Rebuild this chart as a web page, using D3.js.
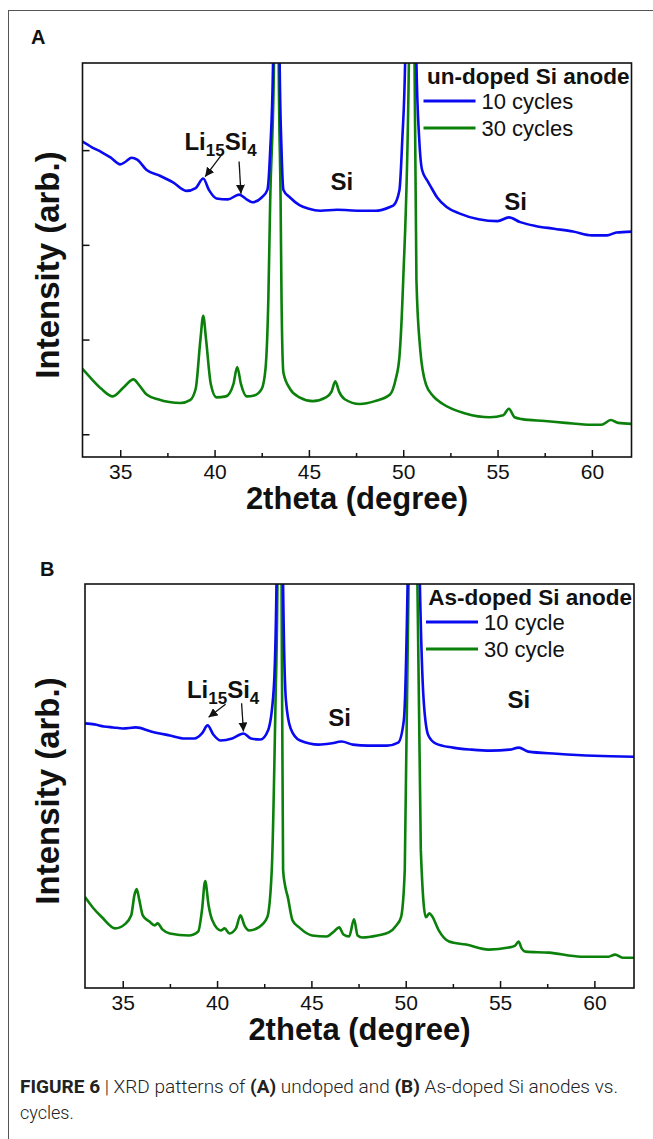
<!DOCTYPE html>
<html><head><meta charset="utf-8">
<script src="https://cdn.jsdelivr.net/npm/d3@7"></script>
<style>body{margin:0;background:#fff}</style>
</head><body><svg id="c" width="653" height="1139" xmlns="http://www.w3.org/2000/svg"></svg>
<script>
// ---- DATA (2theta in degrees, intensity in arbitrary units) ----
const undoped10 = [[33.0,309],[33.5,303],[34.0,298],[34.5,292],[35.0,285],[35.3,288],[35.6,292],[35.9,290],[36.4,279],[37.1,273],[37.8,266],[38.5,257],[39.0,260],[39.4,270],[39.7,258],[40.1,249],[40.7,248],[41.3,253],[41.7,248],[42.0,245],[42.5,250],[42.8,258],[42.95,300],[43.1,392],[43.27,1000],[43.45,392],[43.55,300],[43.65,258],[44.0,250],[44.5,242],[45.0,238],[45.6,236],[46.5,237],[47.7,236],[48.5,236],[49.3,240],[49.5,242],[49.8,258],[49.95,311],[50.1,392],[50.4,1000],[50.7,392],[50.85,311],[51.0,279],[51.3,267],[51.5,260],[51.8,250],[52.3,240],[53.0,233],[54.0,227],[55.0,225],[55.6,229],[56.2,224],[57.0,220],[58.0,217],[59.0,214],[60.0,210],[60.8,210],[61.3,213],[62.1,214]];
const undoped30 = [[33.0,69],[33.5,58],[34.0,48],[34.6,40],[35.2,50],[35.7,58],[36.0,52],[36.4,42],[37.0,37],[37.6,34],[38.2,33],[38.7,36],[39.0,48],[39.25,100],[39.4,125],[39.55,100],[39.8,53],[40.1,39],[40.6,40],[41.0,53],[41.2,71],[41.4,53],[41.7,40],[42.1,41],[42.5,48],[42.7,69],[42.85,142],[42.95,248],[43.15,392],[43.28,1200],[43.4,392],[43.5,248],[43.55,142],[43.65,65],[44.0,48],[44.5,39],[45.2,35],[45.9,39],[46.2,45],[46.4,56],[46.6,45],[46.9,37],[47.7,32],[48.5,35],[49.3,42],[49.6,58],[49.8,82],[50.0,163],[50.3,392],[50.45,1200],[50.6,392],[50.7,163],[50.9,90],[51.2,53],[51.6,40],[52.1,32],[53.3,22],[54.6,18],[55.3,20],[55.6,27],[55.9,18],[56.3,16],[57.5,14],[58.6,12],[60.0,10],[60.5,10],[61.0,15],[61.4,12],[62.1,11]];
const doped10 = [[33.0,262],[33.5,261],[34.0,259],[34.5,258],[35.0,257],[35.7,258],[36.5,254],[37.5,250],[38.3,247],[38.8,247],[39.2,252],[39.5,260],[39.8,251],[40.2,245],[40.8,247],[41.4,252],[41.8,247],[42.3,246],[42.7,255],[43.0,295],[43.15,400],[43.3,900],[43.5,400],[43.65,285],[43.9,257],[44.4,245],[45.4,241],[46.0,242],[46.6,244],[47.2,241],[48.0,240],[49.0,240],[49.6,243],[49.9,265],[50.1,400],[50.4,900],[50.75,400],[50.95,285],[51.2,250],[51.6,242],[52.5,238],[53.5,236],[54.5,235],[55.5,236],[56.0,238],[56.5,234],[58.0,232],[60.0,230],[62.1,229]];
const doped30 = [[33.0,90],[33.4,80],[33.9,70],[34.6,59],[35.1,63],[35.45,72],[35.62,92],[35.74,98],[35.88,87],[36.06,72],[36.4,66],[36.7,62],[36.85,64],[37.1,58],[37.5,54],[38.5,52],[39.0,56],[39.2,77],[39.37,106],[39.55,82],[39.75,67],[40.2,57],[40.4,59],[40.66,54],[41.0,59],[41.24,72],[41.45,62],[41.7,57],[42.2,60],[42.66,70],[42.9,117],[43.1,285],[43.2,400],[43.3,1100],[43.42,400],[43.5,117],[43.6,102],[43.75,90],[44.0,67],[44.35,60],[45.04,52],[45.8,51],[46.2,56],[46.47,60],[46.7,53],[47.0,51],[47.26,68],[47.45,52],[47.7,50],[48.5,52],[49.1,55],[49.5,62],[49.75,70],[49.95,117],[50.15,400],[50.4,1100],[50.62,400],[50.8,137],[51.07,70],[51.25,74],[51.4,71],[51.75,57],[52.3,46],[53.2,43],[54.4,38],[55.45,40],[55.8,42],[55.98,46],[56.15,39],[56.35,36],[57.6,35],[59.3,31],[60.75,31],[61.1,33],[61.5,30],[62.1,30]];

const xDomain = [33, 62.1];
const xTicks = [35, 40, 45, 50, 55, 60];
const xMinorTicks = [37.5, 42.5, 47.5, 52.5, 57.5];
const yDomainA = [-24, 392];
const yTicksA = [0, 100, 200, 300];
const yDomainB = [0, 400];
const yTicksB = [];
const panelLabels = ["A", "B"];
const legendTitles = ["un-doped Si anode", "As-doped Si anode"];
const legendLabelsA = ["10 cycles", "30 cycles"];
const legendLabelsB = ["10 cycle", "30 cycle"];
const xTitle = "2theta (degree)";
const yTitle = "Intensity (arb.)";
// annotation anchors in data units: [2theta, intensity]
const siLabelsA = [[46.75, 258], [55.95, 237]];
const siLabelsB = [[46.5, 259], [56.0, 277]];

const blue = "#0a0af0", green = "#0b800b";
const svg = d3.select("#c");

// outer border
svg.append("rect").attr("x", 8.5).attr("y", 10.5).attr("width", 700).attr("height", 1200)
  .attr("fill", "none").attr("stroke", "#555").attr("stroke-width", 1);

svg.append("defs").append("marker").attr("id", "ah").attr("viewBox", "0 0 10 10")
  .attr("refX", 10).attr("refY", 5).attr("markerWidth", 9).attr("markerHeight", 9)
  .attr("markerUnits", "userSpaceOnUse").attr("orient", "auto")
  .append("path").attr("d", "M0,0 L10,5 L0,10 z").attr("fill", "#111");

function panel(o) {
  const x = d3.scaleLinear().domain(xDomain).range([o.left, o.right]);
  const y = d3.scaleLinear().domain(o.yDomain).range([o.bottom, o.top]);
  const g = svg.append("g");
  const cid = "clip" + o.label;
  svg.select("defs").append("clipPath").attr("id", cid).append("rect")
    .attr("x", o.left).attr("y", o.top).attr("width", o.right - o.left).attr("height", o.bottom - o.top);

  const line = d3.line().x(d => x(d[0])).y(d => y(d[1])).curve(d3.curveMonotoneX);
  const plot = g.append("g").attr("clip-path", `url(#${cid})`);
  plot.append("path").datum(o.s30).attr("d", line).attr("fill", "none").attr("stroke", green).attr("stroke-width", 2.6).attr("stroke-linejoin", "round");
  plot.append("path").datum(o.s10).attr("d", line).attr("fill", "none").attr("stroke", blue).attr("stroke-width", 2.6).attr("stroke-linejoin", "round");

  // x axis (ticks inside)
  const ax = g.append("g").attr("transform", `translate(0,${o.bottom})`)
    .call(d3.axisBottom(x).tickValues(xTicks).tickSize(-7).tickPadding(7).tickFormat(d3.format("d")));
  ax.select(".domain").remove();
  ax.selectAll("line").attr("stroke", "#111").attr("stroke-width", 1.5);
  ax.selectAll("text").attr("font-family", "Liberation Sans, Arial, sans-serif").attr("font-size", 21).attr("fill", "#111");
  const axm = g.append("g").attr("transform", `translate(0,${o.bottom})`)
    .call(d3.axisBottom(x).tickValues(xMinorTicks).tickSize(-4).tickFormat(""));
  axm.select(".domain").remove();
  axm.selectAll("line").attr("stroke", "#111").attr("stroke-width", 1.5);

  if (o.yTicks.length) {
    const ay = g.append("g").attr("transform", `translate(${o.left},0)`)
      .call(d3.axisLeft(y).tickValues(o.yTicks).tickSize(-7).tickFormat(""));
    ay.select(".domain").remove();
    ay.selectAll("line").attr("stroke", "#111").attr("stroke-width", 1.5);
  }

  g.append("rect").attr("x", o.left).attr("y", o.top).attr("width", o.right - o.left).attr("height", o.bottom - o.top)
    .attr("fill", "none").attr("stroke", "#111").attr("stroke-width", 1.6);

  // titles
  g.append("text").attr("x", (o.left + o.right) / 2).attr("y", o.bottom + 52).attr("text-anchor", "middle")
    .attr("font-family", "Liberation Sans, Arial, sans-serif").attr("font-weight", "bold").attr("font-size", 31)
    .attr("fill", "#111").text(xTitle);
  g.append("text").attr("transform", `translate(59,${(o.top + o.bottom) / 2 + 5}) rotate(-90)`).attr("text-anchor", "middle")
    .attr("font-family", "Liberation Sans, Arial, sans-serif").attr("font-weight", "bold").attr("font-size", 33)
    .attr("fill", "#111").text(yTitle);
  g.append("text").attr("x", o.labelX).attr("y", o.top - o.labelOff).attr("font-family", "Liberation Sans, Arial, sans-serif")
    .attr("font-weight", "bold").attr("font-size", 20).attr("fill", "#111").text(o.label);

  // legend
  g.append("text").attr("x", o.right - 2).attr("y", o.top + 21).attr("text-anchor", "end")
    .attr("font-family", "Liberation Sans, Arial, sans-serif").attr("font-weight", "bold").attr("font-size", 22.5)
    .attr("fill", "#111").text(o.legendTitle);
  [[o.legendLabels[0], blue], [o.legendLabels[1], green]].forEach((d, i) => {
    const ly = o.top + 38 + i * 27;
    g.append("line").attr("x1", o.right - 208).attr("x2", o.right - 156).attr("y1", ly).attr("y2", ly)
      .attr("stroke", d[1]).attr("stroke-width", 3);
    g.append("text").attr("x", o.right - 150).attr("y", ly + 7.5).attr("font-family", "Liberation Sans, Arial, sans-serif")
      .attr("font-size", 22).attr("fill", "#111").text(d[0]);
  });

  // Li15Si4 annotation
  const t = g.append("text").attr("x", x(o.liAt[0])).attr("y", y(o.liAt[1]))
    .attr("font-family", "Liberation Sans, Arial, sans-serif").attr("font-weight", "bold").attr("font-size", 24).attr("fill", "#111");
  t.append("tspan").text("Li");
  t.append("tspan").attr("font-size", 17).attr("dy", 6).text("15");
  t.append("tspan").attr("dy", -6).text("Si");
  t.append("tspan").attr("font-size", 17).attr("dy", 6).text("4");
  o.arrows.forEach(a => {
    g.append("line").attr("x1", x(a[0])).attr("y1", y(a[1])).attr("x2", x(a[2])).attr("y2", y(a[3]))
      .attr("stroke", "#111").attr("stroke-width", 1.3).attr("marker-end", "url(#ah)");
  });
  o.si.forEach(s => {
    g.append("text").attr("x", x(s[0])).attr("y", y(s[1])).attr("text-anchor", "middle")
      .attr("font-family", "Liberation Sans, Arial, sans-serif").attr("font-weight", "bold").attr("font-size", 24)
      .attr("fill", "#111").text("Si");
  });
}

panel({label: panelLabels[0], labelX: 31, labelOff: 19, left: 82.5, right: 631.5, top: 63, bottom: 457, yDomain: yDomainA, yTicks: yTicksA,
  s10: undoped10, s30: undoped30, legendTitle: legendTitles[0], legendLabels: legendLabelsA,
  liAt: [38.4, 300], arrows: [[40.45, 297, 39.5, 272], [41.3, 288, 41.4, 254]],
  si: siLabelsA});
panel({label: panelLabels[1], labelX: 40, labelOff: 8, left: 85, right: 634, top: 584, bottom: 988, yDomain: yDomainB, yTicks: yTicksB,
  s10: doped10, s30: doped30, legendTitle: legendTitles[1], legendLabels: legendLabelsB,
  liAt: [38.4, 287], arrows: [[40.45, 281, 39.55, 268], [41.3, 282, 41.4, 254]],
  si: siLabelsB});

// caption
const cap = svg.append("text").attr("x", 20).attr("y", 1093).attr("font-family", "Roboto, sans-serif")
  .attr("font-weight", 300).attr("font-size", 18).attr("fill", "#222")
  .attr("textLength", 598).attr("lengthAdjust", "spacingAndGlyphs");
cap.append("tspan").attr("font-weight", 700).text("FIGURE 6");
cap.append("tspan").text(" | XRD patterns of ");
cap.append("tspan").attr("font-weight", 700).text("(A)");
cap.append("tspan").text(" undoped and ");
cap.append("tspan").attr("font-weight", 700).text("(B)");
cap.append("tspan").text(" As-doped Si anodes vs.");
svg.append("text").attr("x", 20).attr("y", 1119).attr("font-family", "Roboto, sans-serif")
  .attr("font-weight", 300).attr("font-size", 18).attr("fill", "#222").text("cycles.");
</script></body></html>
